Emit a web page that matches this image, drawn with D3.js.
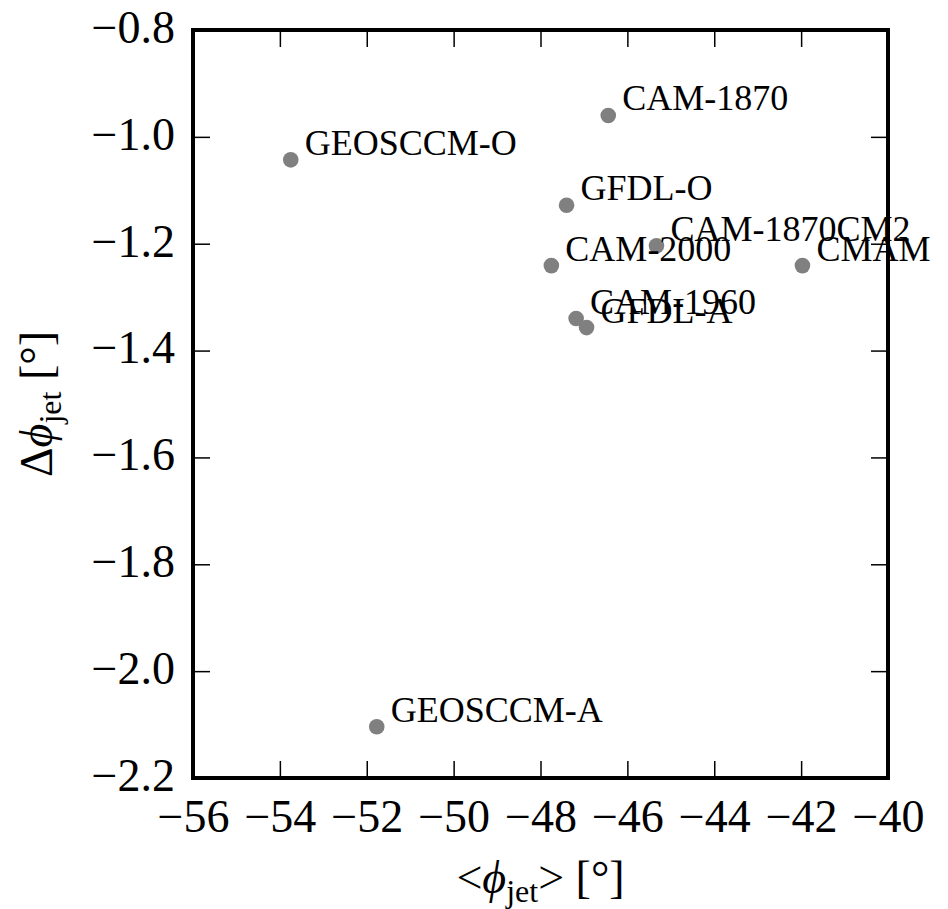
<!DOCTYPE html>
<html>
<head>
<meta charset="utf-8">
<script src="https://cdn.jsdelivr.net/npm/d3@7"></script>
<style>
  body { margin: 0; background: white; }
  svg text { font-family: "Liberation Serif", "Times New Roman", Times, "DejaVu Serif", serif; }
</style>
</head>
<body>
<div id="chart"></div>
<script>
// data
const models = ['CAM-1870', 'GEOSCCM-O', 'GFDL-O', 'CAM-1870CM2', 'CAM-2000', 'CMAM', 'CAM-1960', 'GFDL-A', 'GEOSCCM-A'];
const meanJet = [-46.44, -53.75, -47.40, -45.33, -47.75, -41.97, -47.18, -46.94, -51.77];
const deltaJet = [-0.960, -1.043, -1.128, -1.204, -1.241, -1.241, -1.340, -1.357, -2.104];
const xTicks = [-56, -54, -52, -50, -48, -46, -44, -42, -40];
const yTicks = [-0.8, -1.0, -1.2, -1.4, -1.6, -1.8, -2.0, -2.2];

const W = 948, H = 909;
const margin = {top: 30, right: 60, bottom: 131, left: 193};
const width = W - margin.left - margin.right;
const height = H - margin.top - margin.bottom;

const svg = d3.select('#chart')
    .append('svg')
    .attr('width', W)
    .attr('height', H)
    .append('g')
    .attr('transform', `translate(${margin.left},${margin.top})`);

const x = d3.scaleLinear().domain([-56, -40]).range([0, width]);
const y = d3.scaleLinear().domain([-2.2, -0.8]).range([height, 0]);

const tickLen = -17;

// axes, ticks pointing inward on all four sides
const xAxis = svg.append('g')
    .attr('transform', `translate(0,${height})`)
    .call(d3.axisBottom(x).tickValues(xTicks).tickFormat(d3.format('d'))
        .tickSize(tickLen).tickPadding(21));
const yAxis = svg.append('g')
    .call(d3.axisLeft(y).tickValues(yTicks).tickFormat(d3.format('.1f'))
        .tickSize(tickLen).tickPadding(18));
const xTop = svg.append('g')
    .call(d3.axisTop(x).tickValues(xTicks).tickFormat('').tickSize(tickLen));
const yRight = svg.append('g')
    .attr('transform', `translate(${width},0)`)
    .call(d3.axisRight(y).tickValues(yTicks).tickFormat('').tickSize(tickLen));

[xAxis, yAxis, xTop, yRight].forEach(g => {
    g.attr('font-family', null);
    g.select('.domain').remove();
    g.selectAll('line').attr('stroke', '#000').attr('stroke-width', 1.5);
    g.selectAll('text').attr('fill', '#000').style('font-size', '46px');
});
yAxis.selectAll('text').attr('dy', '0.27em');

// points
svg.selectAll('.dot')
    .data(models)
    .enter()
    .append('circle')
    .attr('class', 'dot')
    .attr('cx', (d, i) => x(meanJet[i]))
    .attr('cy', (d, i) => y(deltaJet[i]))
    .attr('r', 7.8)
    .attr('fill', '#808080');

// point labels
svg.selectAll('.lbl')
    .data(models)
    .enter()
    .append('text')
    .attr('class', 'lbl')
    .attr('x', (d, i) => x(meanJet[i]) + 14)
    .attr('y', (d, i) => y(deltaJet[i]) - 5)
    .style('font-size', '36px')
    .attr('fill', '#000')
    .text(d => d);

// frame
svg.append('rect')
    .attr('width', width)
    .attr('height', height)
    .attr('fill', 'none')
    .attr('stroke', '#000')
    .attr('stroke-width', 4);

// x label
const xl = svg.append('text')
    .attr('x', width / 2)
    .attr('y', height + 115)
    .attr('text-anchor', 'middle')
    .style('font-size', '46px');
xl.append('tspan').text('<');
xl.append('tspan').style('font-style', 'italic').text('\u03d5');
xl.append('tspan').attr('dy', 9).style('font-size', '32px').text('jet');
xl.append('tspan').attr('dy', -9).text('> [\u00b0]');

// y label
const yl = svg.append('text')
    .attr('transform', `translate(${52 - margin.left},${height / 2}) rotate(-90)`)
    .attr('text-anchor', 'middle')
    .style('font-size', '46px');
yl.append('tspan').text('\u0394');
yl.append('tspan').style('font-style', 'italic').text('\u03d5');
yl.append('tspan').attr('dy', 9).style('font-size', '32px').text('jet');
yl.append('tspan').attr('dy', -9).text(' [\u00b0]');
</script>
</body>
</html>
